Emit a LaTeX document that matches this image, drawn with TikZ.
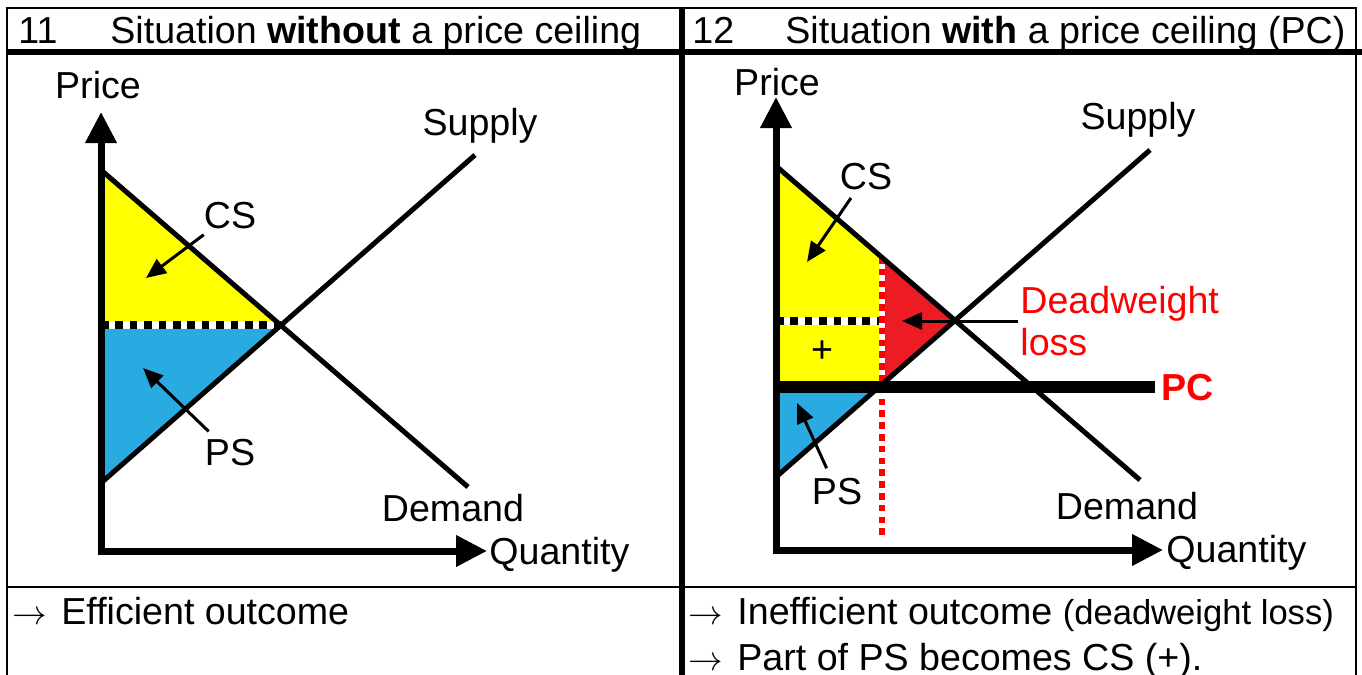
\documentclass[tikz,border=0pt]{standalone}
\usepackage{fontspec}
\setmainfont{Liberation Sans}
\usepackage{tikz}
\usetikzlibrary{arrows.meta}
\definecolor{csyellow}{RGB}{255,255,0}
\definecolor{psblue}{RGB}{41,171,226}
\definecolor{dwlred}{RGB}{237,28,36}
\definecolor{pcred}{RGB}{255,0,0}

\begin{document}
\begin{tikzpicture}[x=0.5pt,y=-0.5pt,font=\fontsize{18.8}{21}\selectfont,
  lbl/.style={inner sep=0pt,anchor=base},
  lblw/.style={inner sep=0pt,anchor=base west},
  curve/.style={line width=2.5pt},
  axes/.style={line width=3.5pt,
    {Triangle[length=15.5pt,width=15pt]}-{Triangle[length=15.5pt,width=15pt]}},
  pointer/.style={line width=1.5pt,-{Triangle[length=10pt,width=8.5pt]}},
  eqdots/.style={line width=3.6pt,dash pattern=on 3.8pt off 3.4pt},
  qdots/.style={pcred,line width=3pt,dash pattern=on 3.3pt off 2.6pt}]
  \useasboundingbox (0,0) rectangle (1362,675);

  % table
  \draw[line width=1.2pt] (7,675) -- (7,8) -- (1356,8) -- (1356,675);
  \draw[line width=2.8pt] (7,52) -- (1362,52);
  \draw[line width=1.2pt] (7,587) -- (1356,587);
  \draw[line width=3pt] (682,8) -- (682,675);
  \node[lblw] (num11) at (18,43) {11};
  \node[lblw] (head11) at (110,43) {Situation \textbf{without} a price ceiling};
  \node[lblw] (num12) at (692,43) {12};
  \node[lblw] (head12) at (785,43) {Situation \textbf{with} a price ceiling (PC)};

  % 11: market without a ceiling
  \fill[csyellow] (101,170) -- (283,325) -- (101,325) -- cycle;
  \fill[psblue] (101,325) -- (283,325) -- (101,483) -- cycle;
  \draw[white,line width=3.6pt] (101,325) -- (283,325);
  \draw[eqdots] (101,325) -- (283,325);
  \draw[curve] (101,170) -- (468,487);
  \draw[curve] (101,483) -- (475,155);
  \draw[axes] (101,112) -- (101,551) -- (487,551);
  \node[lbl] (price11) at (98,98) {Price};
  \node[lblw] (qty11) at (489,564) {Quantity};
  \node[lbl] (sup11) at (480,135) {Supply};
  \node[lbl] (dem11) at (453,521) {Demand};
  \node[lbl] (cs11) at (230,228) {CS};
  \node[lbl] (ps11) at (230,465) {PS};
  \coordinate (cs11tip) at (146,278);
  \coordinate (ps11tip) at (143,368);
  \draw[pointer,shorten <=5pt] (cs11) -- (cs11tip);
  \draw[pointer,shorten <=5pt] (ps11) -- (ps11tip);

  % 12: market with a ceiling
  \fill[csyellow] (776,166) -- (882,257) -- (882,387) -- (776,387) -- cycle;
  \fill[dwlred] (882,257) -- (955,321) -- (882,387) -- cycle;
  \fill[psblue] (776,387) -- (879,387) -- (776,477) -- cycle;
  \draw[white,line width=3.6pt] (776,321) -- (882,321);
  \draw[eqdots] (776,321) -- (882,321);
  \draw[white,line width=3pt] (882,257) -- (882,387);
  \draw[qdots] (882,257) -- (882,540);
  \draw[curve] (776,166) -- (1140,480);
  \draw[curve] (776,477) -- (1150,150);
  \draw[line width=6pt] (776,387) -- (1155,387);
  \draw[axes] (776,97) -- (776,550) -- (1163,550);
  \node[lbl] (price12) at (777,95) {Price};
  \node[lblw] (qty12) at (1166,562) {Quantity};
  \node[lbl] (sup12) at (1138,129) {Supply};
  \node[lbl] (dem12) at (1127,519) {Demand};
  \node[lbl] (cs12) at (866,189) {CS};
  \node[lbl] (ps12) at (837,504) {PS};
  \node[lbl] (plus12) at (822,362) {+};
  \node[lbl,pcred,font=\fontsize{18.8}{21}\selectfont\bfseries] (pc12) at (1188,400) {PC};
  \node[inner sep=0pt,anchor=west,align=left,pcred] (dwl12) at (1020,321) {Deadweight\\loss};
  \coordinate (cs12tip) at (807,262);
  \coordinate (ps12tip) at (797,403);
  \coordinate (dwl12tip) at (902,321);
  \draw[pointer,shorten <=5pt] (cs12) -- (cs12tip);
  \draw[pointer,shorten <=5pt] (ps12) -- (ps12tip);
  \draw[pointer,shorten <=1pt] (dwl12) -- (dwl12tip);

  % outcomes
  \node[lblw] (res11) at (12,624) {$\rightarrow$\hspace{2pt} Efficient outcome};
  \node[lblw] (res12a) at (688,624) {$\rightarrow$\hspace{2pt} Inefficient outcome
    {\fontsize{17.3}{21}\selectfont(deadweight loss)}};
  \node[lblw] (res12b) at (688,670) {$\rightarrow$\hspace{2pt} Part of PS becomes CS (+).};
\end{tikzpicture}
\end{document}
